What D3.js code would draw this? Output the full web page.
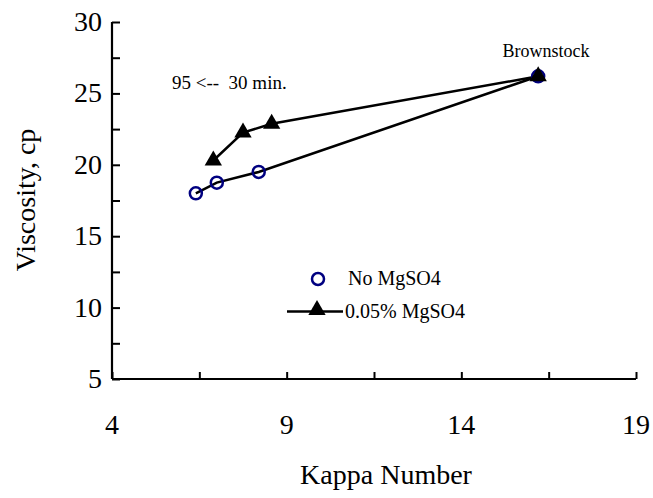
<!DOCTYPE html>
<html><head><meta charset="utf-8">
<script src="https://cdn.jsdelivr.net/npm/d3@7"></script>
<style>
html,body{margin:0;padding:0;background:#fff;}
svg text{font-family:"Times New Roman","Liberation Serif",serif !important;fill:#000;}
</style></head>
<body><svg id="chart" width="653" height="498"></svg>
<script>
const kappaNoMg = [6.4, 7.0, 8.2, 16.2];
const viscNoMg  = [18.0, 18.75, 19.5, 26.2];
const kappaMg   = [6.9, 7.75, 8.57, 16.2];
const viscMg    = [20.3, 22.26, 22.87, 26.2];
const xTickLabels = [4, 9, 14, 19];
const yTickLabels = [5, 10, 15, 20, 25, 30];
const seriesNames = ["No MgSO4", "0.05% MgSO4"];

const FONT = "Times New Roman, Liberation Serif, serif";
const svg = d3.select("#chart");
const x = d3.scaleLinear().domain([4, 19]).range([112, 636]);
const y = d3.scaleLinear().domain([5, 30]).range([379, 22]);

// axes
const xAxis = d3.axisBottom(x).tickValues(d3.range(4, 19.01, 2.5)).tickSize(-7).tickFormat("");
const yAxis = d3.axisLeft(y).tickValues(d3.range(5, 30.01, 2.5)).tickSize(-8).tickFormat("");
const gx = svg.append("g").attr("transform", "translate(0,379)").call(xAxis);
const gy = svg.append("g").attr("transform", "translate(112,0)").call(yAxis);
[gx, gy].forEach(g => {
  g.select(".domain").attr("stroke", "#000").attr("stroke-width", 2.2);
  g.selectAll(".tick line").attr("stroke", "#000").attr("stroke-width", 2);
});
gx.select(".domain").attr("d", `M${x(4)},0H${x(19)}`);
gy.select(".domain").attr("d", `M0,${y(5)}V${y(30)}`);

svg.append("g").selectAll("text").data(xTickLabels).join("text")
  .attr("font-family", FONT)
  .attr("x", d => x(d)).attr("y", 434).attr("text-anchor", "middle")
  .attr("font-size", 28).text(d => d);
svg.append("g").selectAll("text").data(yTickLabels).join("text")
  .attr("font-family", FONT)
  .attr("x", 102).attr("y", d => y(d) + 9).attr("text-anchor", "end")
  .attr("font-size", 28).text(d => d);

svg.append("text").attr("font-family", FONT).attr("x", 386).attr("y", 484).attr("text-anchor", "middle")
  .attr("font-size", 28).text("Kappa Number");
svg.append("text").attr("font-family", FONT).attr("transform", "translate(35,200) rotate(-90)")
  .attr("text-anchor", "middle").attr("font-size", 28).text("Viscosity, cp");

const line = d3.line().x(d => x(d[0])).y(d => y(d[1]));
const ptsNo = kappaNoMg.map((k, i) => [k, viscNoMg[i]]);
const ptsMg = kappaMg.map((k, i) => [k, viscMg[i]]);

svg.append("path").datum(ptsNo).attr("d", line).attr("fill", "none")
  .attr("stroke", "#000").attr("stroke-width", 2.5);
svg.append("path").datum(ptsMg).attr("d", line).attr("fill", "none")
  .attr("stroke", "#000").attr("stroke-width", 2.5);

const tri = d3.symbol().type(d3.symbolTriangle).size(130);
svg.append("g").selectAll("circle").data(ptsNo).join("circle")
  .attr("cx", d => x(d[0])).attr("cy", d => y(d[1])).attr("r", 6)
  .attr("fill", "none").attr("stroke", "#000080").attr("stroke-width", 2.5);
svg.append("g").selectAll("path").data(ptsMg).join("path")
  .attr("d", tri).attr("transform", d => `translate(${x(d[0])},${y(d[1])})`)
  .attr("fill", "#000");

// annotations
svg.append("text").attr("font-family", FONT).attr("x", 172).attr("y", 89).attr("font-size", 19)
  .style("white-space", "pre").text("95 <--  30 min.");
svg.append("text").attr("font-family", FONT).attr("x", 546).attr("y", 57).attr("text-anchor", "middle")
  .attr("font-size", 18).text("Brownstock");

// legend
svg.append("circle").attr("cx", 318).attr("cy", 279).attr("r", 6)
  .attr("fill", "none").attr("stroke", "#000080").attr("stroke-width", 2.5);
svg.append("text").attr("font-family", FONT).attr("x", 348).attr("y", 285).attr("font-size", 20).text(seriesNames[0]);
svg.append("line").attr("x1", 287).attr("x2", 343).attr("y1", 311.5).attr("y2", 311.5)
  .attr("stroke", "#000").attr("stroke-width", 2.5);
svg.append("path").attr("d", tri).attr("transform", "translate(317,310)").attr("fill", "#000");
svg.append("text").attr("font-family", FONT).attr("x", 345).attr("y", 318).attr("font-size", 20).text(seriesNames[1]);
</script></body></html>
